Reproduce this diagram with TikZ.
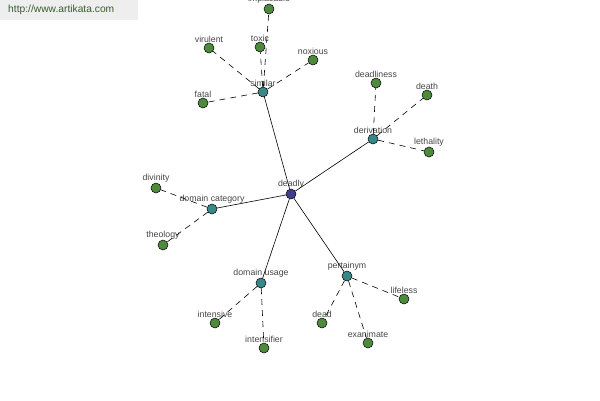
\documentclass[tikz,border=0pt]{standalone}
\usepackage{fontspec}
\setmainfont{Liberation Sans}
\usetikzlibrary{positioning}
\definecolor{hubblue}{RGB}{62,62,140}
\definecolor{relteal}{RGB}{58,135,135}
\definecolor{leafgreen}{RGB}{78,138,62}
\definecolor{labgray}{RGB}{70,70,70}
\definecolor{bannergray}{RGB}{238,238,238}
\definecolor{bannertext}{RGB}{55,95,45}

\begin{document}
\begin{tikzpicture}[
        x=1bp, y=-1bp,
        font=\fontsize{8.8}{10}\selectfont,
        dot/.style={circle, draw=black, line width=0.5pt, minimum size=10bp, inner sep=0pt},
        hub/.style={dot, fill=hubblue},
        rel/.style={dot, fill=relteal},
        leaf/.style={dot, fill=leafgreen},
        lab/.style={text=labgray, inner sep=0.3bp},
        link/.style={draw=black, line width=0.6pt},
        dlink/.style={draw=black, line width=0.6pt, dash pattern=on 6bp off 5bp}
    ]
        \useasboundingbox (0,0) rectangle (600,400);

        % site banner
        \fill[bannergray] (0,0) rectangle (138,20);
        \node[anchor=west, text=bannertext, font=\fontsize{10.3}{12}\selectfont, inner sep=0pt] (site) at (8,10) {http://www.artikata.com};

        \node[hub, label={[lab]above:deadly}] (deadly) at (291,194) {};

        \node[rel, label={[lab]above:similar}] (similar) at (263,92) {};
        \node[rel, label={[lab]above:derivation}] (derivation) at (373,139) {};
        \node[rel, label={[lab]above:domain category}] (domcat) at (212,209) {};
        \node[rel, label={[lab]above:domain usage}] (domusage) at (261,283) {};
        \node[rel, label={[lab]above:pertainym}] (pertainym) at (347,276) {};

        \node[leaf, label={[lab]above:implacable}] (implacable) at (269,9) {};
        \node[leaf, label={[lab]above:virulent}] (virulent) at (209,48) {};
        \node[leaf, label={[lab]above:toxic}] (toxic) at (260,47) {};
        \node[leaf, label={[lab]above:noxious}] (noxious) at (313,60) {};
        \node[leaf, label={[lab]above:fatal}] (fatal) at (203,103) {};
        \node[leaf, label={[lab]above:deadliness}] (deadliness) at (376,83) {};
        \node[leaf, label={[lab]above:death}] (death) at (427,95) {};
        \node[leaf, label={[lab]above:lethality}] (lethality) at (429,152) {};
        \node[leaf, label={[lab]above:divinity}] (divinity) at (156,188) {};
        \node[leaf, label={[lab]above:theology}] (theology) at (163,245) {};
        \node[leaf, label={[lab]above:intensive}] (intensive) at (215,323) {};
        \node[leaf, label={[lab]above:intensifier}] (intensifier) at (264,348) {};
        \node[leaf, label={[lab]above:dead}] (dead) at (322,323) {};
        \node[leaf, label={[lab]above:exanimate}] (exanimate) at (368,343) {};
        \node[leaf, label={[lab]above:lifeless}] (lifeless) at (404,299) {};

        \foreach \r in {similar,derivation,domcat,domusage,pertainym}
            \draw[link] (deadly) -- (\r);

        \foreach \r/\l in {similar/implacable, similar/virulent, similar/toxic, similar/noxious, similar/fatal,
                derivation/deadliness, derivation/death, derivation/lethality,
                domcat/divinity, domcat/theology,
                domusage/intensive, domusage/intensifier,
                pertainym/dead, pertainym/exanimate, pertainym/lifeless}
            \draw[dlink] (\r) -- (\l);
    \end{tikzpicture}
\end{document}
